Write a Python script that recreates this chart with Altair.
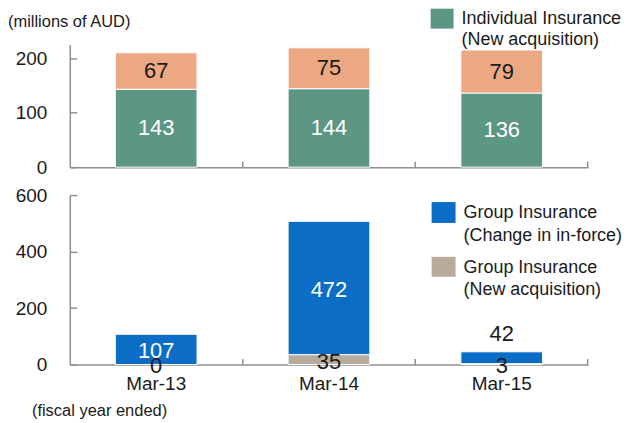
import altair as alt
import pandas as pd

# ---------------- data ----------------
categories = ["Mar-13", "Mar-14", "Mar-15"]
ind_new = [143, 144, 136]          # Individual Insurance (New acquisition)
ind_other = [67, 75, 79]           # upper (salmon) segment
grp_new = [0, 35, 3]               # Group Insurance (New acquisition)
grp_change = [107, 472, 42]        # Group Insurance (Change in in-force)

top_legend = ["Individual Insurance\n(New acquisition)"]
bottom_legend = ["Group Insurance\n(Change in in-force)", "Group Insurance\n(New acquisition)"]
unit_label = "(millions of AUD)"
x_caption = "(fiscal year ended)"

FONT = "Liberation Sans"
GREEN = "#5b9783"
SALMON = "#eca783"
BLUE = "#0b6dc5"
TAN = "#b8ab9b"
AXIS = "#8f8f8f"
TXT = "#1a1a1a"

W = 520
H1 = 123
H2 = 170

# build stacked tables
def stack(lower, upper, lc, uc, ltc, utc):
    rows = []
    for c, a, b in zip(categories, lower, upper):
        rows.append(dict(cat=c, y0=0, y1=a, mid=a / 2, value=a, fill=lc, tcol=ltc))
        rows.append(dict(cat=c, y0=a, y1=a + b, mid=a + b / 2, value=b, fill=uc, tcol=utc))
    return pd.DataFrame(rows)

top_df = stack(ind_new, ind_other, GREEN, SALMON, "white", TXT)
bot_df = stack(grp_new, grp_change, TAN, BLUE, TXT, "white")
# the 42 label does not fit inside its bar: place it above
bot_df["above"] = (bot_df["fill"] == BLUE) & (bot_df["value"] < 60)
bot_df.loc[bot_df["above"], "mid"] = bot_df.loc[bot_df["above"], "y1"]
bot_df.loc[bot_df["above"], "tcol"] = TXT

xscale = alt.Scale(domain=categories, paddingInner=0.527, paddingOuter=0.2635)


def panel(df, ymax, yvals, H, show_labels):
    base = alt.Chart(df)
    x_main = alt.X(
        "cat:N", sort=categories, scale=xscale, title=None,
        axis=alt.Axis(orient="bottom", labels=show_labels, ticks=False, domain=True,
                      domainColor=AXIS, domainWidth=1.5, labelAngle=0,
                      labelFontSize=19, labelFont=FONT, labelColor=TXT, labelPadding=10),
    )
    yscale = alt.Scale(domain=[0, ymax], nice=False, zero=True)
    y_main = alt.Y(
        "y0:Q", scale=yscale, title=None,
        axis=alt.Axis(values=yvals, ticks=False, grid=False, domainColor=AXIS, domainWidth=1.5,
                      labelFontSize=19, labelFont=FONT, labelColor=TXT, labelPadding=23),
    )
    bars = base.mark_bar(stroke="white", strokeWidth=1).encode(
        x=x_main, y=y_main, y2="y1:Q", fill=alt.Fill("fill:N", scale=None)
    )
    # invisible layer carrying inward-pointing tick axes
    tick_layer = base.mark_bar(opacity=0).encode(
        x=alt.X("cat:N", sort=categories, scale=xscale, title=None,
                axis=alt.Axis(orient="top", offset=-H, labels=False, domain=False,
                              ticks=True, tickSize=6, tickColor=AXIS, tickWidth=1.5,
                              bandPosition=1.557)),
        y=alt.Y("y0:Q", scale=yscale, title=None,
                axis=alt.Axis(orient="right", offset=-W, values=yvals, labels=False,
                              domain=False, grid=False, ticks=True, tickSize=7,
                              tickColor=AXIS, tickWidth=1.5)),
        y2="y1:Q",
    )
    return bars, tick_layer


def label_layer(df, filt, dy):
    return alt.Chart(df).transform_filter(filt).mark_text(
        font=FONT, fontSize=22, baseline="middle", dy=dy
    ).encode(
        x=alt.X("cat:N", sort=categories, scale=xscale, axis=None),
        y=alt.Y("mid:Q", axis=None),
        text="value:Q",
        color=alt.Color("tcol:N", scale=None),
    )


# ---------------- top panel ----------------
tb, tt = panel(top_df, 225, [0, 100, 200], H1, False)
top_text = label_layer(top_df, "true", 0)
top_leg_sw = alt.Chart(pd.DataFrame({"c": [GREEN]})).mark_rect().encode(
    x=alt.value(362), x2=alt.value(385), y=alt.value(-36), y2=alt.value(-16),
    fill=alt.Fill("c:N", scale=None),
)
top_leg_tx = alt.Chart(pd.DataFrame({"t": top_legend})).mark_text(
    font=FONT, fontSize=18, align="left", baseline="middle", lineBreak="\n", lineHeight=21, color=TXT
).encode(x=alt.value(393), y=alt.value(-26), text="t:N")
unit_tx = alt.Chart(pd.DataFrame({"t": [unit_label]})).mark_text(
    font=FONT, fontSize=16.5, align="left", baseline="middle", color=TXT
).encode(x=alt.value(-62), y=alt.value(-23), text="t:N")

top = alt.layer(tb, tt, top_text, top_leg_sw, top_leg_tx, unit_tx).resolve_axis(
    x="independent", y="independent"
).properties(width=W, height=H1)

# ---------------- bottom panel ----------------
bb, bt = panel(bot_df, 600, [0, 200, 400, 600], H2, True)
bot_in = label_layer(bot_df, "!datum.above", 2)
bot_above = label_layer(bot_df, "datum.above", -18)
leg_df = pd.DataFrame({"t": bottom_legend, "c": [BLUE, TAN]})
bot_sw1 = alt.Chart(leg_df.iloc[[0]]).mark_rect().encode(
    x=alt.value(363), x2=alt.value(387), y=alt.value(7), y2=alt.value(28),
    fill=alt.Fill("c:N", scale=None),
)
bot_sw2 = alt.Chart(leg_df.iloc[[1]]).mark_rect().encode(
    x=alt.value(363), x2=alt.value(387), y=alt.value(62), y2=alt.value(82),
    fill=alt.Fill("c:N", scale=None),
)
bot_tx1 = alt.Chart(leg_df.iloc[[0]]).mark_text(
    font=FONT, fontSize=18, align="left", baseline="middle", lineBreak="\n", lineHeight=23, color=TXT
).encode(x=alt.value(395), y=alt.value(18), text="t:N")
bot_tx2 = alt.Chart(leg_df.iloc[[1]]).mark_text(
    font=FONT, fontSize=18, align="left", baseline="middle", lineBreak="\n", lineHeight=22, color=TXT
).encode(x=alt.value(395), y=alt.value(73), text="t:N")
cap_tx = alt.Chart(pd.DataFrame({"t": [x_caption]})).mark_text(
    font=FONT, fontSize=16.5, align="left", baseline="middle", color=TXT
).encode(x=alt.value(-38), y=alt.value(217), text="t:N")

bottom = alt.layer(bb, bt, bot_in, bot_above, bot_sw1, bot_sw2, bot_tx1, bot_tx2, cap_tx).resolve_axis(
    x="independent", y="independent"
).properties(width=W, height=H2)

chart = alt.vconcat(top, bottom, spacing=9).properties(padding=0).configure_view(stroke=None)

chart.save("out.html", embed_options={"renderer": "svg", "actions": False})
